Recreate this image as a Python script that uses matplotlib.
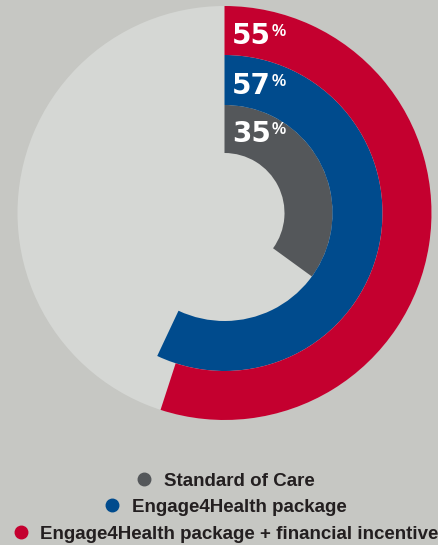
import matplotlib.pyplot as plt
from matplotlib.lines import Line2D

# data
groups = ['Standard of Care', 'Engage4Health package',
          'Engage4Health package + financial incentive']
values = [35, 57, 55]
colors = ['#54575a', '#004b8d', '#c4002f']

bg = '#c6c7c3'
disk = '#d5d7d4'
text_dark = '#231f20'

plt.rcParams['font.family'] = ['Liberation Sans', 'DejaVu Sans']

W, H = 439, 545
fig = plt.figure(figsize=(W / 100, H / 100), dpi=100, facecolor=bg)

# donut axes, placed in pixels (centre 224.5, 213, radius 207)
cx, cy, R = 224.5, 213, 207
ax = fig.add_axes([(cx - R) / W, 1 - (cy + R) / H, 2 * R / W, 2 * R / H])
ax.set_facecolor('none')

# full light disk underneath
ax.pie([100], radius=1, colors=[disk], wedgeprops=dict(edgecolor='none'))

# ring radii (outer, inner) in px: inner ring first
rings = [(108, 60), (158, 108), (207, 158)]
num_size = 20
for v, c, (ro, ri) in zip(values, colors, rings):
    ax.pie([v, 100 - v], radius=ro / R, colors=[c, 'none'], startangle=90,
           counterclock=False,
           wedgeprops=dict(width=(ro - ri) / R, edgecolor='none', linewidth=0))
    base = (ri + 11) / R
    t = ax.text(0.036, base, str(v), color='white', fontsize=num_size,
                family='DejaVu Sans', fontweight='bold',
                ha='left', va='baseline')
    # superscript percent sign, top aligned with the digits
    ax.annotate('%', xy=(1, base), xycoords=(t, 'data'),
                xytext=(0.5, 0.73 * num_size), textcoords='offset points',
                color='white', fontsize=11.5, fontweight='bold',
                ha='left', va='top')

ax.set_xlim(-1, 1)
ax.set_ylim(-1, 1)
ax.set_aspect('equal')
ax.axis('off')

# legend, one centred row per group
rows_y = [481, 507, 534]
for g, c, y in zip(groups, colors, rows_y):
    h = Line2D([], [], marker='o', color=c, linestyle='none', markersize=9)
    leg = fig.legend([h], [g], loc='center', bbox_to_anchor=(225 / W, 1 - y / H),
                     frameon=False, handlelength=1.0, handletextpad=0.55,
                     borderpad=0, borderaxespad=0,
                     prop=dict(size=13.5, weight='bold'))
    for txt in leg.get_texts():
        txt.set_color(text_dark)

fig.savefig('out.png', dpi=100, facecolor=bg)
